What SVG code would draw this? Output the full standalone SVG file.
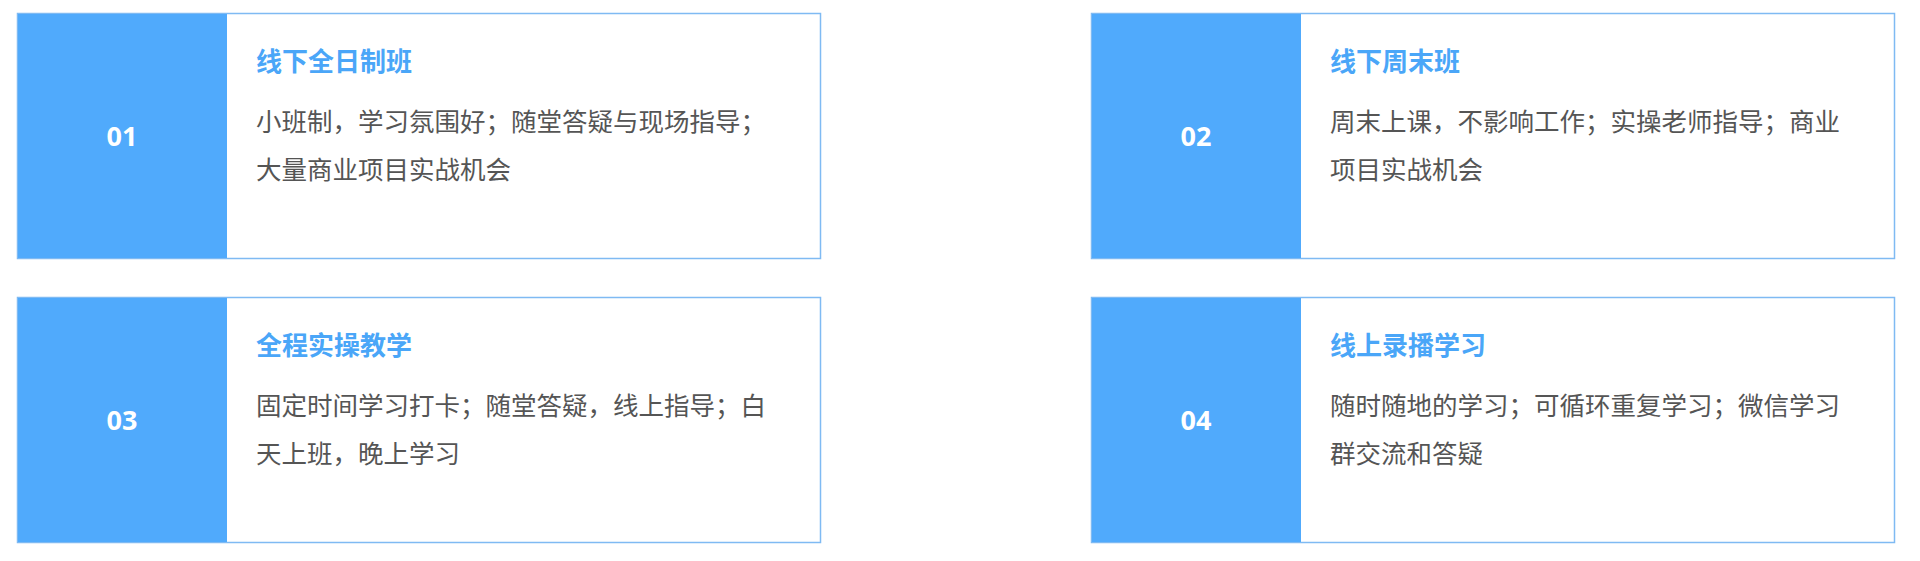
<svg xmlns="http://www.w3.org/2000/svg" width="1920" height="561" viewBox="0 0 1920 561">
<style>
.card{fill:#fff;stroke:#7fbaf3;stroke-width:1.5}
.side{fill:#50aafc}
.num{font-family:"Open Sans","Noto Sans",sans-serif;font-weight:bold;font-size:27px;fill:#fff;text-anchor:middle}
.ttl{font-family:"Noto Sans CJK SC",sans-serif;font-weight:bold;font-size:26px;fill:#4aa6f8}
.body{font-family:"Noto Sans CJK SC",sans-serif;font-size:25.5px;fill:#555}
</style>
<rect width="1920" height="561" fill="#fff"/>
<g id="card1">
<rect class="card" x="17.5" y="13.5" width="803" height="245"/>
<rect class="side" x="18" y="14" width="209" height="244"/>
<text class="num" x="122" y="146">01</text>
<text class="ttl" x="256" y="71">线下全日制班</text>
<text class="body" x="256" y="131">小班制，学习氛围好；随堂答疑与现场指导；</text>
<text class="body" x="256" y="179">大量商业项目实战机会</text>
</g>
<g id="card2">
<rect class="card" x="1091.5" y="13.5" width="803" height="245"/>
<rect class="side" x="1092" y="14" width="209" height="244"/>
<text class="num" x="1196" y="146">02</text>
<text class="ttl" x="1330" y="71">线下周末班</text>
<text class="body" x="1330" y="131">周末上课，不影响工作；实操老师指导；商业</text>
<text class="body" x="1330" y="179">项目实战机会</text>
</g>
<g id="card3">
<rect class="card" x="17.5" y="297.5" width="803" height="245"/>
<rect class="side" x="18" y="298" width="209" height="244"/>
<text class="num" x="122" y="430">03</text>
<text class="ttl" x="256" y="355">全程实操教学</text>
<text class="body" x="256" y="415">固定时间学习打卡；随堂答疑，线上指导；白</text>
<text class="body" x="256" y="463">天上班，晚上学习</text>
</g>
<g id="card4">
<rect class="card" x="1091.5" y="297.5" width="803" height="245"/>
<rect class="side" x="1092" y="298" width="209" height="244"/>
<text class="num" x="1196" y="430">04</text>
<text class="ttl" x="1330" y="355">线上录播学习</text>
<text class="body" x="1330" y="415">随时随地的学习；可循环重复学习；微信学习</text>
<text class="body" x="1330" y="463">群交流和答疑</text>
</g>
<g id="connectors"/>
</svg>
